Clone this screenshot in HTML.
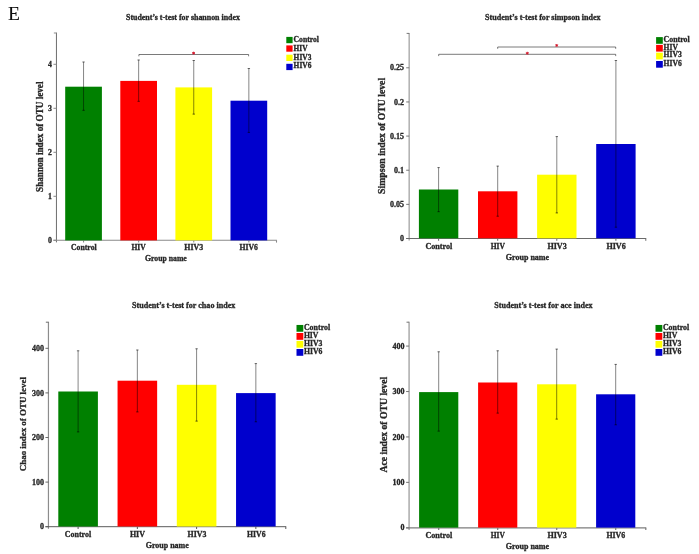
<!DOCTYPE html>
<html><head><meta charset="utf-8"><title>Student's t-test alpha diversity</title>
<style>
html,body{margin:0;padding:0;background:#fff;}
body{width:699px;height:554px;overflow:hidden;font-family:"Liberation Serif",serif;}
svg{display:block;font-family:"Liberation Serif",serif;}
</style></head><body>
<svg width="699" height="554" viewBox="0 0 699 554">
<rect width="699" height="554" fill="#ffffff"/>
<g filter="url(#b)">
<line x1="56.45" y1="32.60" x2="56.45" y2="242.40" stroke="#6e6e6e" stroke-width="1.00"/>
<line x1="53.85" y1="33.00" x2="56.45" y2="33.00" stroke="#8a8a8a" stroke-width="0.99"/>
<line x1="53.45" y1="240.30" x2="276.90" y2="240.30" stroke="#8a8a8a" stroke-width="1.10"/>
<line x1="276.50" y1="240.30" x2="276.50" y2="242.60" stroke="#8a8a8a" stroke-width="1.10"/>
<line x1="53.45" y1="240.30" x2="56.45" y2="240.30" stroke="#8a8a8a" stroke-width="0.99"/>
<text x="51.95" y="242.87" font-size="7.8" font-weight="bold" fill="#262626" stroke="#262626" stroke-width="0.3" text-anchor="end">0</text>
<line x1="53.45" y1="196.30" x2="56.45" y2="196.30" stroke="#8a8a8a" stroke-width="0.99"/>
<text x="51.95" y="198.87" font-size="7.8" font-weight="bold" fill="#262626" stroke="#262626" stroke-width="0.3" text-anchor="end">1</text>
<line x1="53.45" y1="152.30" x2="56.45" y2="152.30" stroke="#8a8a8a" stroke-width="0.99"/>
<text x="51.95" y="154.87" font-size="7.8" font-weight="bold" fill="#262626" stroke="#262626" stroke-width="0.3" text-anchor="end">2</text>
<line x1="53.45" y1="108.30" x2="56.45" y2="108.30" stroke="#8a8a8a" stroke-width="0.99"/>
<text x="51.95" y="110.87" font-size="7.8" font-weight="bold" fill="#262626" stroke="#262626" stroke-width="0.3" text-anchor="end">3</text>
<line x1="53.45" y1="64.30" x2="56.45" y2="64.30" stroke="#8a8a8a" stroke-width="0.99"/>
<text x="51.95" y="66.87" font-size="7.8" font-weight="bold" fill="#262626" stroke="#262626" stroke-width="0.3" text-anchor="end">4</text>
<line x1="83.55" y1="240.30" x2="83.55" y2="242.60" stroke="#8a8a8a" stroke-width="1.10"/>
<line x1="138.65" y1="240.30" x2="138.65" y2="242.60" stroke="#8a8a8a" stroke-width="1.10"/>
<line x1="193.75" y1="240.30" x2="193.75" y2="242.60" stroke="#8a8a8a" stroke-width="1.10"/>
<line x1="248.85" y1="240.30" x2="248.85" y2="242.60" stroke="#8a8a8a" stroke-width="1.10"/>
<rect x="65.20" y="86.70" width="36.70" height="153.70" fill="#008000"/>
<rect x="120.30" y="80.90" width="36.70" height="159.50" fill="#ff0000"/>
<rect x="175.40" y="87.40" width="36.70" height="153.00" fill="#ffff00"/>
<rect x="230.50" y="100.70" width="36.70" height="139.70" fill="#0000cd"/>
<line x1="83.55" y1="61.80" x2="83.55" y2="110.50" stroke="#000" stroke-width="1.00" stroke-opacity="0.48"/>
<line x1="82.35" y1="62.00" x2="84.75" y2="62.00" stroke="#000" stroke-width="0.90" stroke-opacity="0.6"/>
<line x1="82.35" y1="110.30" x2="84.75" y2="110.30" stroke="#000" stroke-width="0.90" stroke-opacity="0.6"/>
<line x1="138.65" y1="59.80" x2="138.65" y2="101.50" stroke="#000" stroke-width="1.00" stroke-opacity="0.48"/>
<line x1="137.45" y1="60.00" x2="139.85" y2="60.00" stroke="#000" stroke-width="0.90" stroke-opacity="0.6"/>
<line x1="137.45" y1="101.30" x2="139.85" y2="101.30" stroke="#000" stroke-width="0.90" stroke-opacity="0.6"/>
<line x1="193.75" y1="60.30" x2="193.75" y2="114.30" stroke="#000" stroke-width="1.00" stroke-opacity="0.48"/>
<line x1="192.55" y1="60.50" x2="194.95" y2="60.50" stroke="#000" stroke-width="0.90" stroke-opacity="0.6"/>
<line x1="192.55" y1="114.10" x2="194.95" y2="114.10" stroke="#000" stroke-width="0.90" stroke-opacity="0.6"/>
<line x1="248.85" y1="68.30" x2="248.85" y2="132.60" stroke="#000" stroke-width="1.00" stroke-opacity="0.48"/>
<line x1="247.65" y1="68.50" x2="250.05" y2="68.50" stroke="#000" stroke-width="0.90" stroke-opacity="0.6"/>
<line x1="247.65" y1="132.40" x2="250.05" y2="132.40" stroke="#000" stroke-width="0.90" stroke-opacity="0.6"/>
<text x="71.00" y="249.87" font-size="7.8" font-weight="bold" fill="#262626" stroke="#262626" stroke-width="0.3" text-anchor="start" textLength="25.70" lengthAdjust="spacingAndGlyphs">Control</text>
<text x="131.40" y="249.87" font-size="7.8" font-weight="bold" fill="#262626" stroke="#262626" stroke-width="0.3" text-anchor="start" textLength="14.30" lengthAdjust="spacingAndGlyphs">HIV</text>
<text x="184.30" y="249.87" font-size="7.8" font-weight="bold" fill="#262626" stroke="#262626" stroke-width="0.3" text-anchor="start" textLength="18.80" lengthAdjust="spacingAndGlyphs">HIV3</text>
<text x="239.50" y="249.87" font-size="7.8" font-weight="bold" fill="#262626" stroke="#262626" stroke-width="0.3" text-anchor="start" textLength="18.40" lengthAdjust="spacingAndGlyphs">HIV6</text>
<text x="145.00" y="261.27" font-size="7.8" font-weight="bold" fill="#262626" stroke="#262626" stroke-width="0.3" text-anchor="start" textLength="41.80" lengthAdjust="spacingAndGlyphs">Group name</text>
<text x="126.00" y="19.98" font-size="7.95" font-weight="bold" fill="#262626" stroke="#262626" stroke-width="0.3" text-anchor="start" textLength="114.00" lengthAdjust="spacingAndGlyphs">Student’s t-test for shannon index</text>
<text x="43.20" y="191.90" font-size="9.5" font-weight="bold" fill="#262626" stroke="#262626" stroke-width="0.3" text-anchor="start" textLength="110.40" lengthAdjust="spacingAndGlyphs" transform="rotate(-90 43.20 191.90)">Shannon index of OTU level</text>
<rect x="286.30" y="36.90" width="6.30" height="6.30" fill="#008000"/>
<text x="293.60" y="41.71" font-size="7.6" font-weight="bold" fill="#262626" stroke="#262626" stroke-width="0.3" text-anchor="start" textLength="25.40" lengthAdjust="spacingAndGlyphs">Control</text>
<rect x="286.30" y="45.40" width="6.30" height="6.30" fill="#ff0000"/>
<text x="293.60" y="51.01" font-size="7.6" font-weight="bold" fill="#262626" stroke="#262626" stroke-width="0.3" text-anchor="start" textLength="13.97" lengthAdjust="spacingAndGlyphs">HIV</text>
<rect x="286.30" y="54.70" width="6.30" height="6.30" fill="#ffff00"/>
<text x="293.60" y="59.51" font-size="7.6" font-weight="bold" fill="#262626" stroke="#262626" stroke-width="0.3" text-anchor="start" textLength="17.78" lengthAdjust="spacingAndGlyphs">HIV3</text>
<rect x="286.30" y="63.80" width="6.30" height="6.30" fill="#0000cd"/>
<text x="293.60" y="68.21" font-size="7.6" font-weight="bold" fill="#262626" stroke="#262626" stroke-width="0.3" text-anchor="start" textLength="17.78" lengthAdjust="spacingAndGlyphs">HIV6</text>
<polyline points="138.90,56.30 138.90,54.50 248.60,54.50 248.60,56.30" fill="none" stroke="#000" stroke-opacity="0.52" stroke-width="1"/>
<path d="M193.60 51.70V54.50M192.20 52.40L195.00 53.90M195.00 52.40L192.20 53.90" stroke="#d4182c" stroke-width="0.95" fill="none"/>
<line x1="409.20" y1="33.00" x2="409.20" y2="240.60" stroke="#b4b4b4" stroke-width="1.60"/>
<line x1="406.60" y1="33.40" x2="409.20" y2="33.40" stroke="#6a6a6a" stroke-width="0.90"/>
<line x1="406.20" y1="238.50" x2="646.20" y2="238.50" stroke="#6a6a6a" stroke-width="1.00"/>
<line x1="645.80" y1="238.50" x2="645.80" y2="240.80" stroke="#6a6a6a" stroke-width="1.00"/>
<line x1="406.20" y1="238.50" x2="409.20" y2="238.50" stroke="#6a6a6a" stroke-width="0.90"/>
<text x="403.90" y="241.14" font-size="8" font-weight="bold" fill="#262626" stroke="#262626" stroke-width="0.3" text-anchor="end">0</text>
<line x1="406.20" y1="204.36" x2="409.20" y2="204.36" stroke="#6a6a6a" stroke-width="0.90"/>
<text x="403.90" y="207.00" font-size="8" font-weight="bold" fill="#262626" stroke="#262626" stroke-width="0.3" text-anchor="end">0.05</text>
<line x1="406.20" y1="170.22" x2="409.20" y2="170.22" stroke="#6a6a6a" stroke-width="0.90"/>
<text x="403.90" y="172.86" font-size="8" font-weight="bold" fill="#262626" stroke="#262626" stroke-width="0.3" text-anchor="end">0.1</text>
<line x1="406.20" y1="136.08" x2="409.20" y2="136.08" stroke="#6a6a6a" stroke-width="0.90"/>
<text x="403.90" y="138.72" font-size="8" font-weight="bold" fill="#262626" stroke="#262626" stroke-width="0.3" text-anchor="end">0.15</text>
<line x1="406.20" y1="101.94" x2="409.20" y2="101.94" stroke="#6a6a6a" stroke-width="0.90"/>
<text x="403.90" y="104.58" font-size="8" font-weight="bold" fill="#262626" stroke="#262626" stroke-width="0.3" text-anchor="end">0.2</text>
<line x1="406.20" y1="67.80" x2="409.20" y2="67.80" stroke="#6a6a6a" stroke-width="0.90"/>
<text x="403.90" y="70.44" font-size="8" font-weight="bold" fill="#262626" stroke="#262626" stroke-width="0.3" text-anchor="end">0.25</text>
<line x1="438.60" y1="238.50" x2="438.60" y2="240.80" stroke="#6a6a6a" stroke-width="1.00"/>
<line x1="497.70" y1="238.50" x2="497.70" y2="240.80" stroke="#6a6a6a" stroke-width="1.00"/>
<line x1="556.80" y1="238.50" x2="556.80" y2="240.80" stroke="#6a6a6a" stroke-width="1.00"/>
<line x1="615.90" y1="238.50" x2="615.90" y2="240.80" stroke="#6a6a6a" stroke-width="1.00"/>
<rect x="418.90" y="189.50" width="39.40" height="48.80" fill="#008000"/>
<rect x="478.00" y="191.30" width="39.40" height="47.00" fill="#ff0000"/>
<rect x="537.10" y="174.70" width="39.40" height="63.60" fill="#ffff00"/>
<rect x="596.20" y="144.00" width="39.40" height="94.30" fill="#0000cd"/>
<line x1="438.60" y1="167.40" x2="438.60" y2="211.90" stroke="#000" stroke-width="1.00" stroke-opacity="0.48"/>
<line x1="437.40" y1="167.60" x2="439.80" y2="167.60" stroke="#000" stroke-width="0.90" stroke-opacity="0.6"/>
<line x1="437.40" y1="211.70" x2="439.80" y2="211.70" stroke="#000" stroke-width="0.90" stroke-opacity="0.6"/>
<line x1="497.70" y1="165.90" x2="497.70" y2="216.40" stroke="#000" stroke-width="1.00" stroke-opacity="0.48"/>
<line x1="496.50" y1="166.10" x2="498.90" y2="166.10" stroke="#000" stroke-width="0.90" stroke-opacity="0.6"/>
<line x1="496.50" y1="216.20" x2="498.90" y2="216.20" stroke="#000" stroke-width="0.90" stroke-opacity="0.6"/>
<line x1="556.80" y1="136.40" x2="556.80" y2="213.10" stroke="#000" stroke-width="1.00" stroke-opacity="0.48"/>
<line x1="555.60" y1="136.60" x2="558.00" y2="136.60" stroke="#000" stroke-width="0.90" stroke-opacity="0.6"/>
<line x1="555.60" y1="212.90" x2="558.00" y2="212.90" stroke="#000" stroke-width="0.90" stroke-opacity="0.6"/>
<line x1="615.90" y1="60.30" x2="615.90" y2="227.40" stroke="#000" stroke-width="1.00" stroke-opacity="0.48"/>
<line x1="614.70" y1="60.50" x2="617.10" y2="60.50" stroke="#000" stroke-width="0.90" stroke-opacity="0.6"/>
<line x1="614.70" y1="227.20" x2="617.10" y2="227.20" stroke="#000" stroke-width="0.90" stroke-opacity="0.6"/>
<text x="425.40" y="248.54" font-size="8" font-weight="bold" fill="#262626" stroke="#262626" stroke-width="0.3" text-anchor="start" textLength="26.90" lengthAdjust="spacingAndGlyphs">Control</text>
<text x="490.70" y="248.54" font-size="8" font-weight="bold" fill="#262626" stroke="#262626" stroke-width="0.3" text-anchor="start" textLength="14.30" lengthAdjust="spacingAndGlyphs">HIV</text>
<text x="547.40" y="248.54" font-size="8" font-weight="bold" fill="#262626" stroke="#262626" stroke-width="0.3" text-anchor="start" textLength="19.30" lengthAdjust="spacingAndGlyphs">HIV3</text>
<text x="606.40" y="248.54" font-size="8" font-weight="bold" fill="#262626" stroke="#262626" stroke-width="0.3" text-anchor="start" textLength="19.30" lengthAdjust="spacingAndGlyphs">HIV6</text>
<text x="505.80" y="260.14" font-size="8" font-weight="bold" fill="#262626" stroke="#262626" stroke-width="0.3" text-anchor="start" textLength="43.30" lengthAdjust="spacingAndGlyphs">Group name</text>
<text x="485.10" y="19.53" font-size="8.1" font-weight="bold" fill="#262626" stroke="#262626" stroke-width="0.3" text-anchor="start" textLength="115.50" lengthAdjust="spacingAndGlyphs">Student’s t-test for simpson index</text>
<text x="385.50" y="193.90" font-size="9.7" font-weight="bold" fill="#262626" stroke="#262626" stroke-width="0.3" text-anchor="start" textLength="116.00" lengthAdjust="spacingAndGlyphs" transform="rotate(-90 385.50 193.90)">Simpson index of OTU level</text>
<rect x="656.10" y="37.10" width="6.70" height="6.70" fill="#008000"/>
<text x="663.60" y="41.87" font-size="7.8" font-weight="bold" fill="#262626" stroke="#262626" stroke-width="0.3" text-anchor="start" textLength="26.00" lengthAdjust="spacingAndGlyphs">Control</text>
<rect x="656.10" y="44.90" width="6.70" height="6.70" fill="#ff0000"/>
<text x="663.60" y="49.87" font-size="7.8" font-weight="bold" fill="#262626" stroke="#262626" stroke-width="0.3" text-anchor="start" textLength="14.30" lengthAdjust="spacingAndGlyphs">HIV</text>
<rect x="656.10" y="52.70" width="6.70" height="6.70" fill="#ffff00"/>
<text x="663.60" y="57.37" font-size="7.8" font-weight="bold" fill="#262626" stroke="#262626" stroke-width="0.3" text-anchor="start" textLength="18.20" lengthAdjust="spacingAndGlyphs">HIV3</text>
<rect x="656.10" y="61.00" width="6.70" height="6.70" fill="#0000cd"/>
<text x="663.60" y="65.77" font-size="7.8" font-weight="bold" fill="#262626" stroke="#262626" stroke-width="0.3" text-anchor="start" textLength="18.20" lengthAdjust="spacingAndGlyphs">HIV6</text>
<polyline points="438.70,56.10 438.70,54.30 615.70,54.30 615.70,56.10" fill="none" stroke="#000" stroke-opacity="0.52" stroke-width="1"/>
<path d="M527.30 51.80V54.60M525.90 52.50L528.70 54.00M528.70 52.50L525.90 54.00" stroke="#d4182c" stroke-width="0.95" fill="none"/>
<polyline points="497.70,48.80 497.70,47.00 615.70,47.00 615.70,48.80" fill="none" stroke="#000" stroke-opacity="0.52" stroke-width="1"/>
<path d="M556.70 44.00V46.80M555.30 44.70L558.10 46.20M558.10 44.70L555.30 46.20" stroke="#d4182c" stroke-width="0.95" fill="none"/>
<line x1="48.45" y1="321.80" x2="48.45" y2="528.80" stroke="#8c8c8c" stroke-width="1.20"/>
<line x1="45.85" y1="322.20" x2="48.45" y2="322.20" stroke="#5a5a5a" stroke-width="0.90"/>
<line x1="45.45" y1="526.70" x2="286.20" y2="526.70" stroke="#5a5a5a" stroke-width="1.00"/>
<line x1="285.80" y1="526.70" x2="285.80" y2="529.00" stroke="#5a5a5a" stroke-width="1.00"/>
<line x1="45.45" y1="526.70" x2="48.45" y2="526.70" stroke="#5a5a5a" stroke-width="0.90"/>
<text x="43.95" y="529.34" font-size="8" font-weight="bold" fill="#262626" stroke="#262626" stroke-width="0.3" text-anchor="end">0</text>
<line x1="45.45" y1="482.10" x2="48.45" y2="482.10" stroke="#5a5a5a" stroke-width="0.90"/>
<text x="43.95" y="484.74" font-size="8" font-weight="bold" fill="#262626" stroke="#262626" stroke-width="0.3" text-anchor="end">100</text>
<line x1="45.45" y1="437.50" x2="48.45" y2="437.50" stroke="#5a5a5a" stroke-width="0.90"/>
<text x="43.95" y="440.14" font-size="8" font-weight="bold" fill="#262626" stroke="#262626" stroke-width="0.3" text-anchor="end">200</text>
<line x1="45.45" y1="392.90" x2="48.45" y2="392.90" stroke="#5a5a5a" stroke-width="0.90"/>
<text x="43.95" y="395.54" font-size="8" font-weight="bold" fill="#262626" stroke="#262626" stroke-width="0.3" text-anchor="end">300</text>
<line x1="45.45" y1="348.30" x2="48.45" y2="348.30" stroke="#5a5a5a" stroke-width="0.90"/>
<text x="43.95" y="350.94" font-size="8" font-weight="bold" fill="#262626" stroke="#262626" stroke-width="0.3" text-anchor="end">400</text>
<line x1="78.10" y1="526.70" x2="78.10" y2="529.00" stroke="#5a5a5a" stroke-width="1.00"/>
<line x1="137.35" y1="526.70" x2="137.35" y2="529.00" stroke="#5a5a5a" stroke-width="1.00"/>
<line x1="196.60" y1="526.70" x2="196.60" y2="529.00" stroke="#5a5a5a" stroke-width="1.00"/>
<line x1="255.85" y1="526.70" x2="255.85" y2="529.00" stroke="#5a5a5a" stroke-width="1.00"/>
<rect x="58.30" y="391.50" width="39.60" height="135.00" fill="#008000"/>
<rect x="117.55" y="380.70" width="39.60" height="145.80" fill="#ff0000"/>
<rect x="176.80" y="384.80" width="39.60" height="141.70" fill="#ffff00"/>
<rect x="236.05" y="393.10" width="39.60" height="133.40" fill="#0000cd"/>
<line x1="78.10" y1="350.60" x2="78.10" y2="432.10" stroke="#000" stroke-width="1.00" stroke-opacity="0.48"/>
<line x1="76.90" y1="350.80" x2="79.30" y2="350.80" stroke="#000" stroke-width="0.90" stroke-opacity="0.6"/>
<line x1="76.90" y1="431.90" x2="79.30" y2="431.90" stroke="#000" stroke-width="0.90" stroke-opacity="0.6"/>
<line x1="137.35" y1="349.80" x2="137.35" y2="412.10" stroke="#000" stroke-width="1.00" stroke-opacity="0.48"/>
<line x1="136.15" y1="350.00" x2="138.55" y2="350.00" stroke="#000" stroke-width="0.90" stroke-opacity="0.6"/>
<line x1="136.15" y1="411.90" x2="138.55" y2="411.90" stroke="#000" stroke-width="0.90" stroke-opacity="0.6"/>
<line x1="196.60" y1="348.60" x2="196.60" y2="421.30" stroke="#000" stroke-width="1.00" stroke-opacity="0.48"/>
<line x1="195.40" y1="348.80" x2="197.80" y2="348.80" stroke="#000" stroke-width="0.90" stroke-opacity="0.6"/>
<line x1="195.40" y1="421.10" x2="197.80" y2="421.10" stroke="#000" stroke-width="0.90" stroke-opacity="0.6"/>
<line x1="255.85" y1="363.40" x2="255.85" y2="422.00" stroke="#000" stroke-width="1.00" stroke-opacity="0.48"/>
<line x1="254.65" y1="363.60" x2="257.05" y2="363.60" stroke="#000" stroke-width="0.90" stroke-opacity="0.6"/>
<line x1="254.65" y1="421.80" x2="257.05" y2="421.80" stroke="#000" stroke-width="0.90" stroke-opacity="0.6"/>
<text x="64.80" y="536.94" font-size="8" font-weight="bold" fill="#262626" stroke="#262626" stroke-width="0.3" text-anchor="start" textLength="26.40" lengthAdjust="spacingAndGlyphs">Control</text>
<text x="129.90" y="536.94" font-size="8" font-weight="bold" fill="#262626" stroke="#262626" stroke-width="0.3" text-anchor="start" textLength="15.10" lengthAdjust="spacingAndGlyphs">HIV</text>
<text x="187.60" y="536.94" font-size="8" font-weight="bold" fill="#262626" stroke="#262626" stroke-width="0.3" text-anchor="start" textLength="18.80" lengthAdjust="spacingAndGlyphs">HIV3</text>
<text x="247.10" y="536.94" font-size="8" font-weight="bold" fill="#262626" stroke="#262626" stroke-width="0.3" text-anchor="start" textLength="18.40" lengthAdjust="spacingAndGlyphs">HIV6</text>
<text x="145.70" y="547.74" font-size="8" font-weight="bold" fill="#262626" stroke="#262626" stroke-width="0.3" text-anchor="start" textLength="43.10" lengthAdjust="spacingAndGlyphs">Group name</text>
<text x="132.10" y="307.53" font-size="8.1" font-weight="bold" fill="#262626" stroke="#262626" stroke-width="0.3" text-anchor="start" textLength="103.20" lengthAdjust="spacingAndGlyphs">Student’s t-test for chao index</text>
<text x="25.70" y="471.20" font-size="8.9" font-weight="bold" fill="#262626" stroke="#262626" stroke-width="0.3" text-anchor="start" textLength="94.10" lengthAdjust="spacingAndGlyphs" transform="rotate(-90 25.70 471.20)">Chao index of OTU level</text>
<rect x="296.50" y="324.95" width="6.80" height="6.80" fill="#008000"/>
<text x="303.90" y="329.87" font-size="7.8" font-weight="bold" fill="#262626" stroke="#262626" stroke-width="0.3" text-anchor="start" textLength="26.30" lengthAdjust="spacingAndGlyphs">Control</text>
<rect x="296.50" y="333.00" width="6.80" height="6.80" fill="#ff0000"/>
<text x="303.90" y="337.87" font-size="7.8" font-weight="bold" fill="#262626" stroke="#262626" stroke-width="0.3" text-anchor="start" textLength="14.47" lengthAdjust="spacingAndGlyphs">HIV</text>
<rect x="296.50" y="340.90" width="6.80" height="6.80" fill="#ffff00"/>
<text x="303.90" y="345.87" font-size="7.8" font-weight="bold" fill="#262626" stroke="#262626" stroke-width="0.3" text-anchor="start" textLength="18.41" lengthAdjust="spacingAndGlyphs">HIV3</text>
<rect x="296.50" y="349.00" width="6.80" height="6.80" fill="#0000cd"/>
<text x="303.90" y="353.67" font-size="7.8" font-weight="bold" fill="#262626" stroke="#262626" stroke-width="0.3" text-anchor="start" textLength="18.41" lengthAdjust="spacingAndGlyphs">HIV6</text>
<line x1="409.10" y1="321.80" x2="409.10" y2="529.90" stroke="#b0b0b0" stroke-width="1.60"/>
<line x1="406.50" y1="322.20" x2="409.10" y2="322.20" stroke="#7c7c7c" stroke-width="1.08"/>
<line x1="406.10" y1="527.80" x2="646.20" y2="527.80" stroke="#7c7c7c" stroke-width="1.20"/>
<line x1="645.80" y1="527.80" x2="645.80" y2="530.10" stroke="#7c7c7c" stroke-width="1.20"/>
<line x1="406.10" y1="527.80" x2="409.10" y2="527.80" stroke="#7c7c7c" stroke-width="1.08"/>
<text x="404.60" y="530.44" font-size="8" font-weight="bold" fill="#262626" stroke="#262626" stroke-width="0.3" text-anchor="end">0</text>
<line x1="406.10" y1="482.37" x2="409.10" y2="482.37" stroke="#7c7c7c" stroke-width="1.08"/>
<text x="404.60" y="485.01" font-size="8" font-weight="bold" fill="#262626" stroke="#262626" stroke-width="0.3" text-anchor="end">100</text>
<line x1="406.10" y1="436.94" x2="409.10" y2="436.94" stroke="#7c7c7c" stroke-width="1.08"/>
<text x="404.60" y="439.58" font-size="8" font-weight="bold" fill="#262626" stroke="#262626" stroke-width="0.3" text-anchor="end">200</text>
<line x1="406.10" y1="391.51" x2="409.10" y2="391.51" stroke="#7c7c7c" stroke-width="1.08"/>
<text x="404.60" y="394.15" font-size="8" font-weight="bold" fill="#262626" stroke="#262626" stroke-width="0.3" text-anchor="end">300</text>
<line x1="406.10" y1="346.08" x2="409.10" y2="346.08" stroke="#7c7c7c" stroke-width="1.08"/>
<text x="404.60" y="348.72" font-size="8" font-weight="bold" fill="#262626" stroke="#262626" stroke-width="0.3" text-anchor="end">400</text>
<line x1="438.70" y1="527.80" x2="438.70" y2="530.10" stroke="#7c7c7c" stroke-width="1.20"/>
<line x1="497.70" y1="527.80" x2="497.70" y2="530.10" stroke="#7c7c7c" stroke-width="1.20"/>
<line x1="556.70" y1="527.80" x2="556.70" y2="530.10" stroke="#7c7c7c" stroke-width="1.20"/>
<line x1="615.70" y1="527.80" x2="615.70" y2="530.10" stroke="#7c7c7c" stroke-width="1.20"/>
<rect x="419.10" y="392.10" width="39.20" height="135.50" fill="#008000"/>
<rect x="478.10" y="382.50" width="39.20" height="145.10" fill="#ff0000"/>
<rect x="537.10" y="384.30" width="39.20" height="143.30" fill="#ffff00"/>
<rect x="596.10" y="394.30" width="39.20" height="133.30" fill="#0000cd"/>
<line x1="438.70" y1="351.60" x2="438.70" y2="431.30" stroke="#000" stroke-width="1.00" stroke-opacity="0.48"/>
<line x1="437.50" y1="351.80" x2="439.90" y2="351.80" stroke="#000" stroke-width="0.90" stroke-opacity="0.6"/>
<line x1="437.50" y1="431.10" x2="439.90" y2="431.10" stroke="#000" stroke-width="0.90" stroke-opacity="0.6"/>
<line x1="497.70" y1="350.60" x2="497.70" y2="413.30" stroke="#000" stroke-width="1.00" stroke-opacity="0.48"/>
<line x1="496.50" y1="350.80" x2="498.90" y2="350.80" stroke="#000" stroke-width="0.90" stroke-opacity="0.6"/>
<line x1="496.50" y1="413.10" x2="498.90" y2="413.10" stroke="#000" stroke-width="0.90" stroke-opacity="0.6"/>
<line x1="556.70" y1="348.90" x2="556.70" y2="419.30" stroke="#000" stroke-width="1.00" stroke-opacity="0.48"/>
<line x1="555.50" y1="349.10" x2="557.90" y2="349.10" stroke="#000" stroke-width="0.90" stroke-opacity="0.6"/>
<line x1="555.50" y1="419.10" x2="557.90" y2="419.10" stroke="#000" stroke-width="0.90" stroke-opacity="0.6"/>
<line x1="615.70" y1="364.20" x2="615.70" y2="425.00" stroke="#000" stroke-width="1.00" stroke-opacity="0.48"/>
<line x1="614.50" y1="364.40" x2="616.90" y2="364.40" stroke="#000" stroke-width="0.90" stroke-opacity="0.6"/>
<line x1="614.50" y1="424.80" x2="616.90" y2="424.80" stroke="#000" stroke-width="0.90" stroke-opacity="0.6"/>
<text x="425.40" y="537.84" font-size="8" font-weight="bold" fill="#262626" stroke="#262626" stroke-width="0.3" text-anchor="start" textLength="26.90" lengthAdjust="spacingAndGlyphs">Control</text>
<text x="490.70" y="537.84" font-size="8" font-weight="bold" fill="#262626" stroke="#262626" stroke-width="0.3" text-anchor="start" textLength="14.10" lengthAdjust="spacingAndGlyphs">HIV</text>
<text x="547.40" y="537.84" font-size="8" font-weight="bold" fill="#262626" stroke="#262626" stroke-width="0.3" text-anchor="start" textLength="19.30" lengthAdjust="spacingAndGlyphs">HIV3</text>
<text x="606.40" y="537.84" font-size="8" font-weight="bold" fill="#262626" stroke="#262626" stroke-width="0.3" text-anchor="start" textLength="18.80" lengthAdjust="spacingAndGlyphs">HIV6</text>
<text x="505.80" y="549.44" font-size="8" font-weight="bold" fill="#262626" stroke="#262626" stroke-width="0.3" text-anchor="start" textLength="43.30" lengthAdjust="spacingAndGlyphs">Group name</text>
<text x="494.20" y="307.53" font-size="8.1" font-weight="bold" fill="#262626" stroke="#262626" stroke-width="0.3" text-anchor="start" textLength="98.40" lengthAdjust="spacingAndGlyphs">Student’s t-test for ace index</text>
<text x="386.80" y="472.50" font-size="9.7" font-weight="bold" fill="#262626" stroke="#262626" stroke-width="0.3" text-anchor="start" textLength="95.70" lengthAdjust="spacingAndGlyphs" transform="rotate(-90 386.80 472.50)">Ace index of OTU level</text>
<rect x="655.50" y="324.95" width="6.80" height="6.80" fill="#008000"/>
<text x="662.90" y="329.87" font-size="7.8" font-weight="bold" fill="#262626" stroke="#262626" stroke-width="0.3" text-anchor="start" textLength="26.30" lengthAdjust="spacingAndGlyphs">Control</text>
<rect x="655.50" y="333.00" width="6.80" height="6.80" fill="#ff0000"/>
<text x="662.90" y="337.87" font-size="7.8" font-weight="bold" fill="#262626" stroke="#262626" stroke-width="0.3" text-anchor="start" textLength="14.47" lengthAdjust="spacingAndGlyphs">HIV</text>
<rect x="655.50" y="340.90" width="6.80" height="6.80" fill="#ffff00"/>
<text x="662.90" y="345.87" font-size="7.8" font-weight="bold" fill="#262626" stroke="#262626" stroke-width="0.3" text-anchor="start" textLength="18.41" lengthAdjust="spacingAndGlyphs">HIV3</text>
<rect x="655.50" y="349.00" width="6.80" height="6.80" fill="#0000cd"/>
<text x="662.90" y="353.67" font-size="7.8" font-weight="bold" fill="#262626" stroke="#262626" stroke-width="0.3" text-anchor="start" textLength="18.41" lengthAdjust="spacingAndGlyphs">HIV6</text>
<text x="8.00" y="20.00" font-size="19.5" font-weight="normal" fill="#111" stroke="#111" stroke-width="0.1" text-anchor="start">E</text>
</g>
<defs><filter id="b" x="0" y="0" width="100%" height="100%"><feGaussianBlur stdDeviation="0.45"/></filter></defs>
</svg>
</body></html>
